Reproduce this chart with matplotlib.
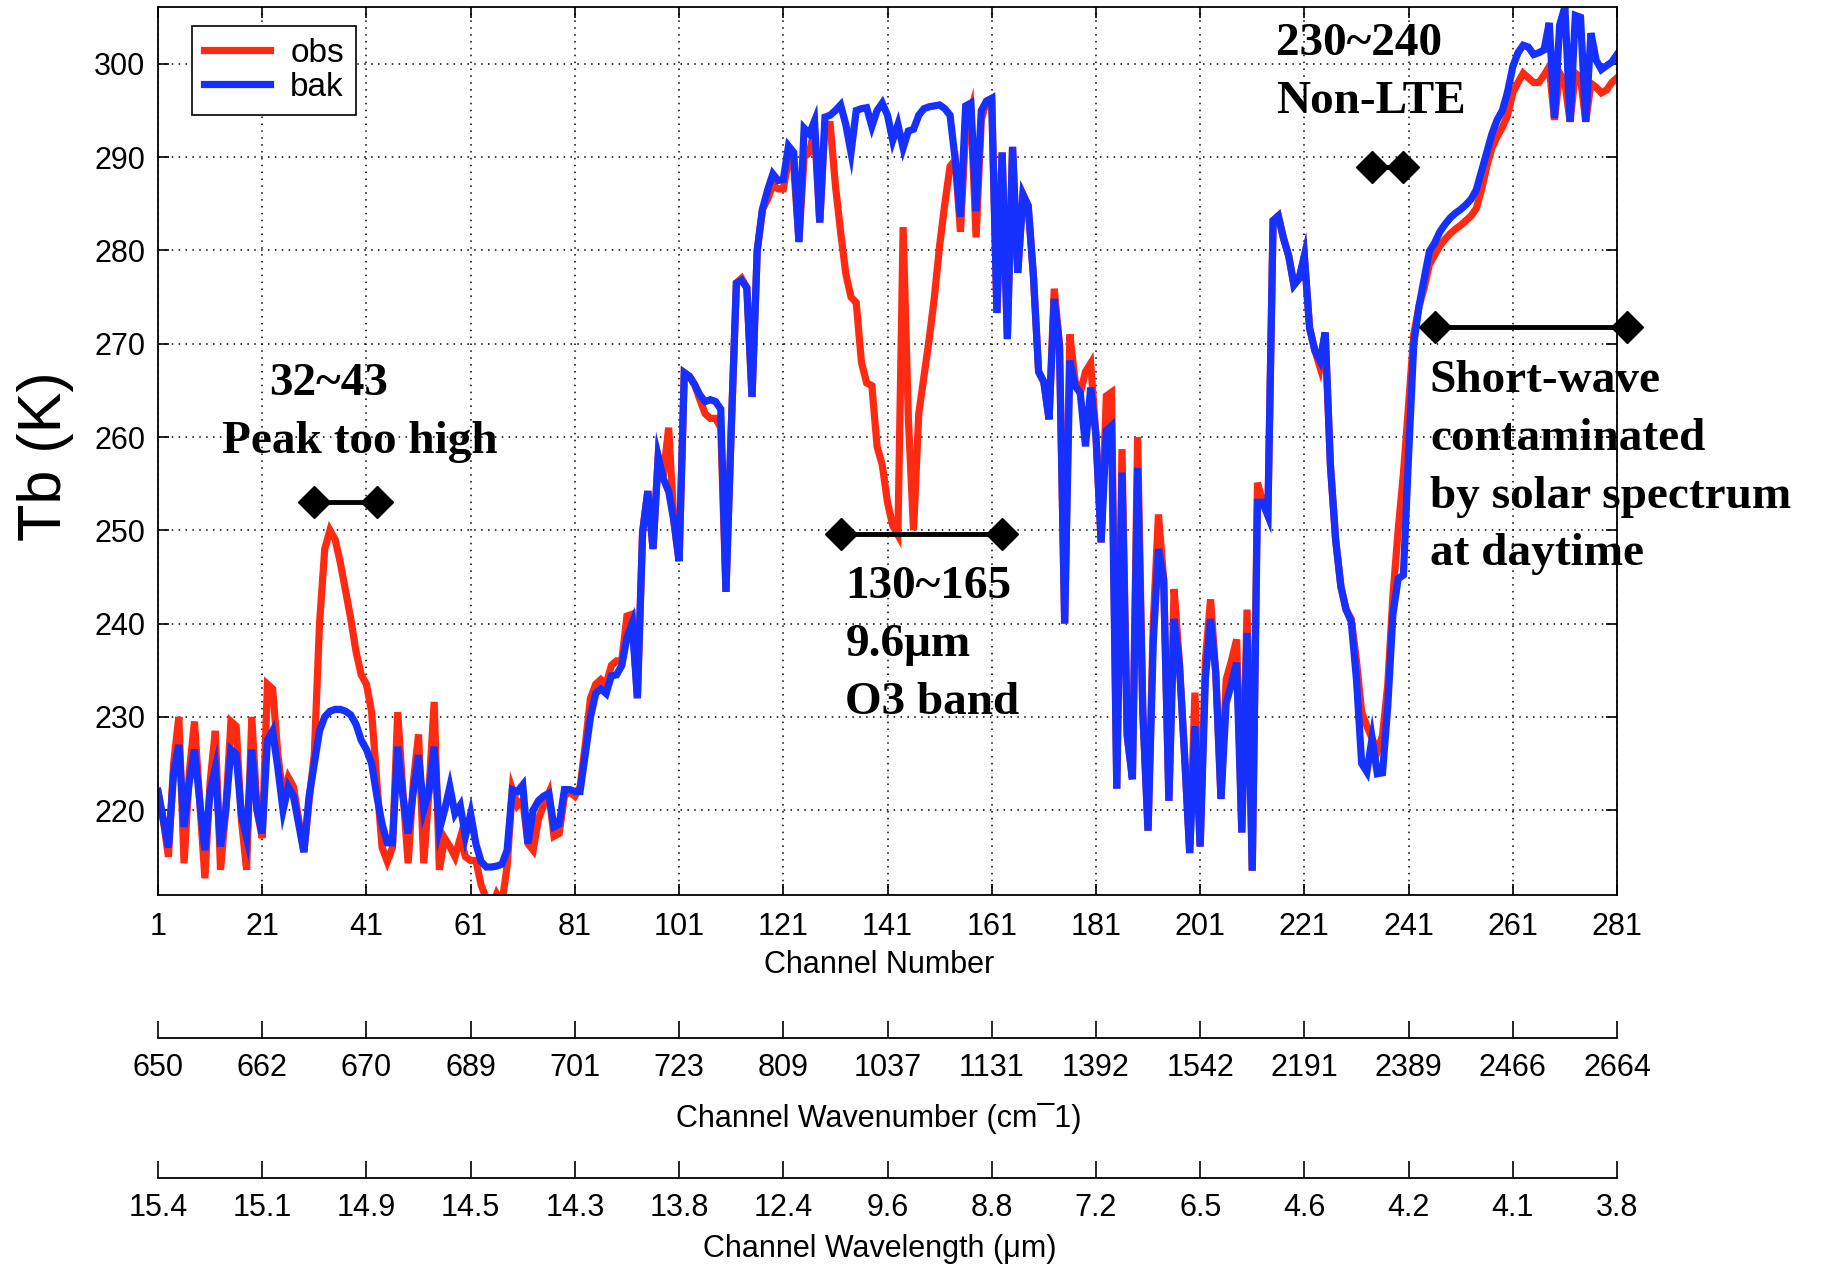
import numpy as np
import matplotlib.pyplot as plt

plt.rcParams['font.family'] = ['Liberation Sans', 'DejaVu Sans']

# brightness temperature per channel
channels = np.arange(1, 282)

obs = [
    222, 219, 215, 225, 230, 214.3, 224, 229.5, 221, 212.7,
    223, 228.5, 213.6, 220, 229.5, 229, 219, 213.6, 230, 220,
    217, 233.5, 233, 226, 221.5, 223.5, 222.5, 219, 215.5, 221,
    226, 240, 248, 250, 249, 246.5, 243.5, 240.5, 237, 234.5,
    233.5, 230.5, 223, 216, 214.5, 216, 230.5, 222, 214.3, 223,
    228.1, 214.3, 222, 231.6, 213.6, 217, 216.1, 215, 217, 215,
    214.6, 214.6, 212, 210.5, 209.5, 211, 210, 214, 222.2, 220.5,
    221.1, 216.4, 215.7, 219, 220.5, 221.8, 217.2, 217.5, 221.5, 222,
    221.5, 222.5, 227, 232, 233.5, 234, 233.5, 235.5, 236, 236,
    240.8, 241, 232, 249.8, 254.2, 248, 257.9, 256, 261, 251,
    246.7, 266.9, 266.5, 265.6, 264, 262.5, 262, 262, 261, 243.4,
    260.7, 276.5, 277, 276, 264.3, 280, 284.4, 285.5, 287, 286.6,
    286.6, 289.7, 289, 281, 290, 290.5, 293, 283, 293.5, 293.5,
    287, 282, 277.5, 275, 274.4, 268, 265.8, 265.5, 259, 257,
    253, 250.5, 249.5, 282.5, 262, 250, 262.5, 266.5, 270.5, 275,
    280.5, 285, 289, 289.7, 282, 293, 295, 281.4, 294, 296,
    296.3, 273.3, 290.5, 270.5, 291.1, 277.6, 286, 284.8, 277.3, 267,
    265.9, 261.9, 275.9, 269.9, 240, 271, 266, 264.7, 267, 267.9,
    260.2, 248.7, 264.4, 264.8, 222.3, 258.7, 228, 223.5, 260, 230.5,
    217.8, 240, 251.7, 244.7, 221, 243.7, 236, 226, 215.4, 232.6,
    216.1, 236, 242.6, 234.7, 221.2, 234, 236, 238.3, 217.6, 241.5,
    213.5, 255.1, 253, 251.6, 283.2, 283.7, 281.3, 279.4, 276.3, 277,
    279.4, 271.7, 269.3, 267.5, 271.2, 257, 249, 244, 241.5, 240.5,
    236, 230.5, 229, 227.7, 226.3, 228, 233.4, 243, 250, 256,
    263.4, 271, 274, 276, 278.5, 279.5, 280.5, 281.2, 281.8, 282.3,
    282.7, 283.2, 283.7, 284.5, 286.5, 289, 291, 292.2, 293.2, 294.5,
    296.9, 298, 299, 298.5, 298, 298, 298.8, 299.7, 294, 299,
    298, 293.8, 299, 298.5, 293.8, 297.9, 297.5, 296.9, 297.2, 298, 298.5,
]

bak = [
    222, 219, 216, 224, 227, 218.2, 223, 226.5, 221, 215.7,
    222, 224.5, 216.1, 220, 226.5, 226, 219.5, 217.1, 226.5, 220,
    217.5, 227.5, 228.5, 224.5, 220, 222.5, 221.5, 218.5, 215.5, 221.5,
    225, 228.5, 230, 230.6, 230.8, 230.8, 230.6, 230.2, 229.2, 227.5,
    226.5, 225, 221.5, 218.5, 216.5, 216.5, 226.8, 221.5, 217.5, 222,
    225.9, 220, 222, 226.8, 217.9, 220, 222.5, 219.6, 220.5, 217.2,
    219.6, 216.4, 214.5, 213.9, 213.9, 214, 214.2, 215.7, 222.2, 222,
    222.7, 216.4, 220, 221, 221.5, 221.8, 218.2, 218.5, 222.2, 222.2,
    222, 222, 226, 230, 232.5, 233, 232.5, 234.4, 234.5, 235.5,
    238.5, 240, 232, 249.8, 254.2, 248, 257.9, 255.5, 254.2, 251,
    246.7, 266.9, 266.5, 265.6, 264.5, 263.8, 264, 263.8, 263, 243.4,
    260.7, 276.5, 276.8, 276, 264.3, 280, 284.4, 286.5, 288.2, 287.5,
    287.6, 291.2, 290.5, 280.9, 293.1, 292.5, 293.9, 283, 294.3, 294.5,
    295, 295.6, 293.5, 290.5, 295, 295.2, 295.3, 293.3, 295, 295.8,
    294.5, 291.8, 293.5, 291, 292.8, 293, 294.5, 295.2, 295.4, 295.5,
    295.6, 295.2, 294.5, 289.7, 283.6, 295.5, 295.8, 284.2, 295, 296,
    296.3, 273.3, 290.5, 270.5, 291.1, 277.6, 286, 284.8, 277.3, 267,
    265.9, 261.9, 274.8, 269.9, 240, 268.2, 265.5, 264.7, 259, 265.3,
    260.2, 248.7, 260.7, 261.2, 222.3, 256.2, 228, 223.3, 256.7, 230.4,
    217.8, 238, 248, 244.7, 221, 240.5, 235.8, 226, 215.4, 229,
    216.1, 234, 240.5, 234.7, 221.2, 231.5, 233.5, 235.8, 217.6, 239,
    213.5, 253, 253, 251.6, 283.2, 283.7, 281.3, 279.4, 276.3, 277,
    279.4, 271.7, 269.3, 268.2, 271.2, 257, 249, 244, 241.5, 240.2,
    234, 225, 224.1, 227.7, 223.9, 224, 231.1, 241, 244.8, 245.2,
    258, 270, 274, 277, 279.9, 280.8, 282, 282.8, 283.5, 284,
    284.4, 284.9, 285.5, 286.5, 288.5, 290.5, 292.5, 294, 295, 297,
    299.7, 301.2, 302, 301.8, 301, 301.2, 301.5, 304.4, 294.2, 304.2,
    306.1, 293.8, 305.2, 305, 293.8, 303.3, 300.4, 299.4, 299.8, 300.2, 301,
]

chan_ticks = [1, 21, 41, 61, 81, 101, 121, 141, 161, 181, 201, 221, 241, 261, 281]
wavenumber_labels = ['650', '662', '670', '689', '701', '723', '809', '1037',
                     '1131', '1392', '1542', '2191', '2389', '2466', '2664']
wavelength_labels = ['15.4', '15.1', '14.9', '14.5', '14.3', '13.8', '12.4', '9.6',
                     '8.8', '7.2', '6.5', '4.6', '4.2', '4.1', '3.8']
tb_ticks = [220, 230, 240, 250, 260, 270, 280, 290, 300]

# channel ranges marked on the plot
range_start = [31, 132, 234, 246]
range_end = [43, 163, 240, 283]
range_tb = [253, 249.6, 289, 271.8]

W, H = 1823, 1267
fig = plt.figure(figsize=(W / 100, H / 100), dpi=100)
left, width = 158 / W, 1459 / W
ax = fig.add_axes([left, 1 - 895 / H, width, 888 / H])

ax.plot(channels, obs, color='#ff2a12', lw=5.2, label='obs', solid_joinstyle='miter')
ax.plot(channels, bak, color='#1530ff', lw=5.2, label='bak', solid_joinstyle='miter')

ax.set_xlim(1, 281)
ax.set_ylim(210.9, 306.1)
ax.set_xticks(chan_ticks)
ax.set_yticks(tb_ticks)
ax.tick_params(direction='in', length=8, width=1.2, labelsize=22, top=True, right=True)
ax.tick_params(axis='x', pad=12)
ax.tick_params(axis='y', pad=9)
ax.grid(True, color='black', linestyle=(0, (1, 3.5)), linewidth=1.1)
for s in ax.spines.values():
    s.set_linewidth(1.3)

leg = ax.legend(loc='upper left', bbox_to_anchor=(0.0233, 0.9786), borderaxespad=0,
                fontsize=24, fancybox=False, edgecolor='black', framealpha=1,
                handlelength=2.0, borderpad=0.35, labelspacing=0.1, handletextpad=0.6)
leg.get_frame().set_linewidth(1.2)

for a, b, t in zip(range_start, range_end, range_tb):
    ax.plot([a, b], [t, t], color='black', lw=3.5, marker='D', markersize=16,
            clip_on=False, zorder=5)

serif = dict(family=['Liberation Serif', 'DejaVu Serif'], weight='bold', fontsize=34)
ax.text(33.8, 265.7, '32~43', ha='center', va='center', **serif)
ax.text(39.8, 259.5, 'Peak too high', ha='center', va='center', **serif)
ax.text(132.9, 243.9, '130~165', ha='left', va='center', **serif)
ax.text(132.9, 237.7, '9.6\u03bcm', ha='left', va='center', **serif)
ax.text(132.9, 231.5, 'O3 band', ha='left', va='center', **serif)
ax.text(215.6, 302.1, '230~240', ha='left', va='center', **serif)
ax.text(215.6, 295.9, 'Non-LTE', ha='left', va='center', **serif)
ax.text(245.1, 266.0, 'Short-wave', ha='left', va='center', **serif)
ax.text(245.1, 259.8, 'contaminated', ha='left', va='center', **serif)
ax.text(245.1, 253.6, 'by solar spectrum', ha='left', va='center', **serif)
ax.text(245.1, 247.5, 'at daytime', ha='left', va='center', **serif)

# extra axes below for wavenumber and wavelength
for ypix, labels in [(1038, wavenumber_labels), (1178, wavelength_labels)]:
    ax2 = fig.add_axes([left, 1 - ypix / H, width, 1e-6])
    ax2.set_xlim(1, 281)
    ax2.set_xticks(chan_ticks)
    ax2.set_xticklabels(labels)
    ax2.set_yticks([])
    ax2.patch.set_visible(False)
    for s in ['top', 'left', 'right']:
        ax2.spines[s].set_visible(False)
    ax2.spines['bottom'].set_linewidth(1.3)
    ax2.tick_params(axis='x', direction='in', length=12, width=1.2, labelsize=22, pad=11)

fig.text(879 / W, 1 - 965 / H, 'Channel Number', ha='center', va='center', fontsize=22)
fig.text(879 / W, 1 - 1118 / H, 'Channel Wavenumber (cm\u00af1)', ha='center', va='center', fontsize=22)
fig.text(880 / W, 1 - 1249 / H, 'Channel Wavelength (\u03bcm)', ha='center', va='center', fontsize=22)
fig.text(46 / W, 1 - 456 / H, 'Tb (K)', rotation=90, ha='center', va='center', fontsize=44)

fig.savefig('out.png', dpi=100)
